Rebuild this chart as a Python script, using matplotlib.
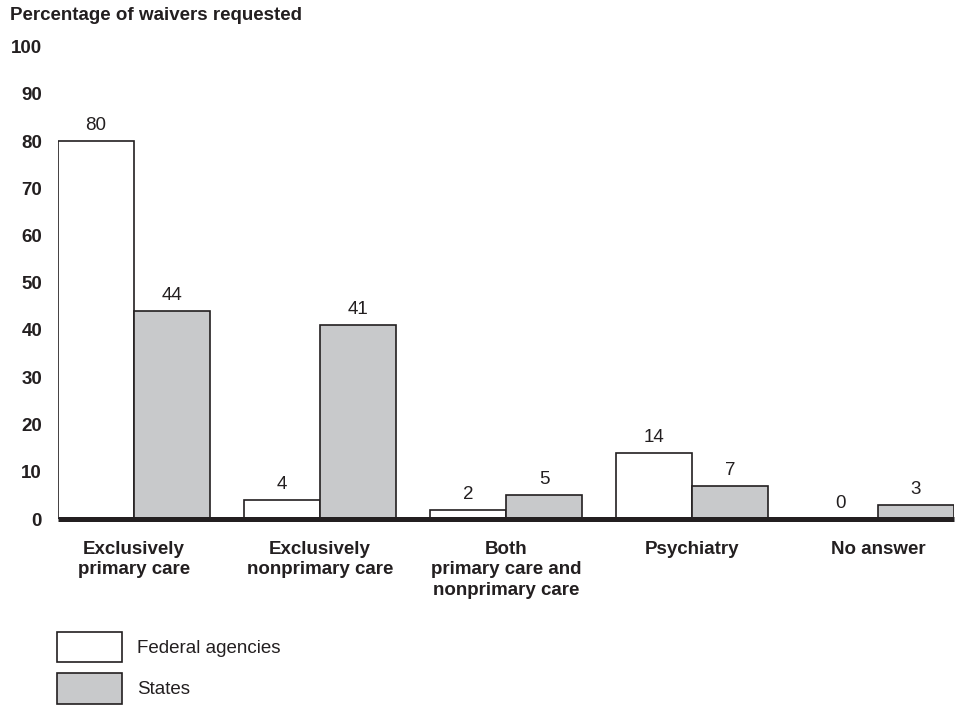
import matplotlib
matplotlib.use("Agg")
import matplotlib.pyplot as plt
from matplotlib.patches import Patch

plt.rcParams['font.family'] = ['Liberation Sans', 'DejaVu Sans']

categories = ['Exclusively\nprimary care', 'Exclusively\nnonprimary care',
              'Both\nprimary care and\nnonprimary care', 'Psychiatry', 'No answer']
federal = [80, 4, 2, 14, 0]
states = [44, 41, 5, 7, 3]
yticks = [0, 10, 20, 30, 40, 50, 60, 70, 80, 90, 100]

ink = '#231f20'
gray = '#c8c9cb'
fs = 13.5
W, H = 962, 705
bw = 76 / 186

fig = plt.figure(figsize=(W / 100, H / 100), dpi=100)
ax = fig.add_axes([58 / W, (H - 519) / H, (954 - 58) / W, (519 - 46.5) / H])

x = list(range(len(categories)))
b1 = ax.bar([i - bw / 2 for i in x], federal, width=bw, color='white',
            edgecolor=ink, linewidth=1.2, label='Federal agencies')
b2 = ax.bar([i + bw / 2 for i in x], states, width=bw, color=gray,
            edgecolor=ink, linewidth=1.2, label='States')
ax.bar_label(b1, padding=5, fontsize=fs, color=ink)
ax.bar_label(b2, padding=5, fontsize=fs, color=ink)

# heavy baseline under the bars
ax.axhline(0, color=ink, linewidth=3.6, zorder=5, clip_on=False,
           solid_capstyle='butt')

ax.set_xlim(-bw, len(categories) - 1 + bw)
ax.set_ylim(0, 100)
ax.set_yticks(yticks)
ax.set_yticklabels([str(v) for v in yticks], fontsize=fs, fontweight='bold', color=ink)
ax.set_xticks(x)
ax.set_xticklabels(categories, fontsize=fs, fontweight='bold', color=ink,
                   linespacing=1.3, va='top')
ax.tick_params(axis='y', length=0, pad=11.5)
ax.tick_params(axis='x', length=0, pad=15.5)
for s in ax.spines.values():
    s.set_visible(False)

fig.text(10 / W, 1 - 16 / H, 'Percentage of waivers requested', fontsize=fs,
         fontweight='bold', color=ink, va='center', ha='left')

handles = [Patch(facecolor='white', edgecolor=ink, linewidth=1.2, label='Federal agencies'),
           Patch(facecolor=gray, edgecolor=ink, linewidth=1.2, label='States')]
fig.legend(handles=handles, loc='upper left', bbox_to_anchor=(57 / W, 1 - 632 / H),
           frameon=False, fontsize=fs, handlelength=3.47, handleheight=2.1,
           labelspacing=0.6, handletextpad=0.8, borderpad=0, borderaxespad=0,
           labelcolor=ink)

fig.savefig('out.png', dpi=100, facecolor='white')
